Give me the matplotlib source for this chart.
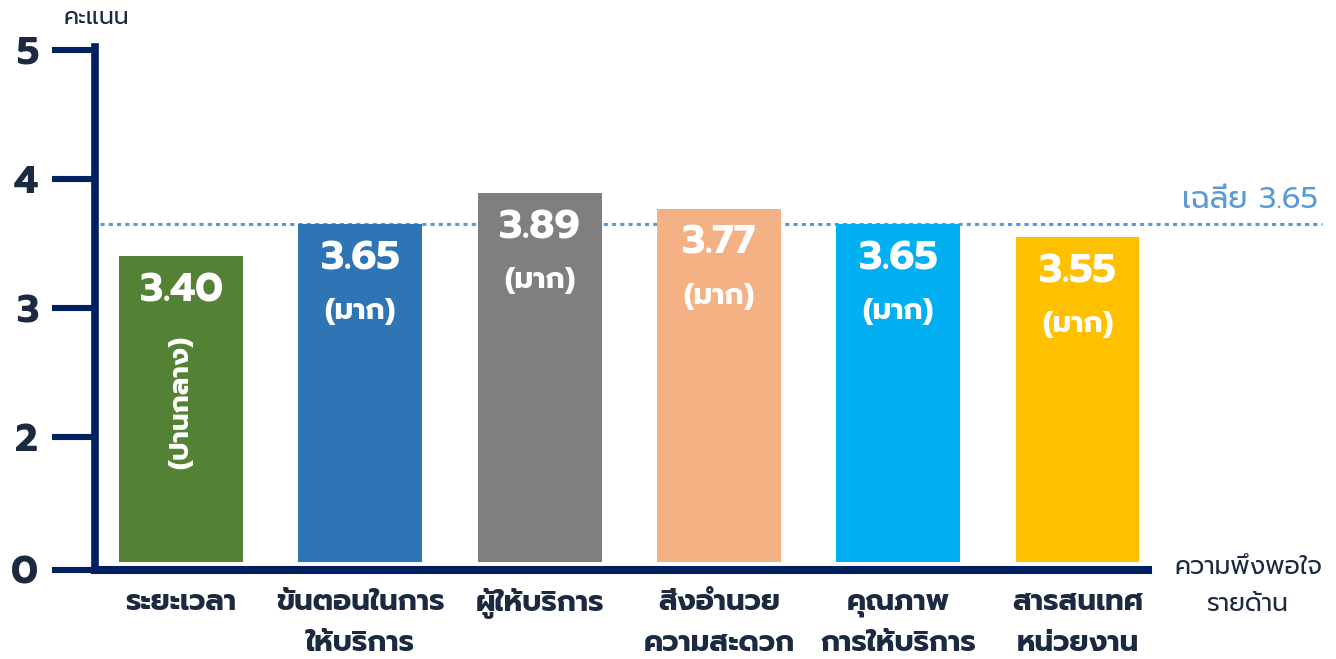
import matplotlib
matplotlib.use("Agg")
import matplotlib.pyplot as plt
from matplotlib.transforms import blended_transform_factory

FONT = ['Prompt', 'DejaVu Sans']
plt.rcParams['font.family'] = FONT

# ---- data ----
categories = ["ระยะเวลา", "ขั้นตอนในการ\nให้บริการ", "ผู้ให้บริการ",
              "สิ่งอำนวย\nความสะดวก", "คุณภาพ\nการให้บริการ", "สารสนเทศ\nหน่วยงาน"]
scores = [3.40, 3.65, 3.89, 3.77, 3.65, 3.55]
levels = ["ปานกลาง", "มาก", "มาก", "มาก", "มาก", "มาก"]
average = 3.65
bar_colors = ["#548235", "#2E75B6", "#7F7F7F", "#F4B183", "#00B0F0", "#FFC000"]
ytick_values = [0, 2, 3, 4, 5]
ytick_labels = ["0", "2", "3", "4", "5"]

# broken axis: 0..2 compressed
ZERO_POS = 0.97
def ypos(v):
    return v if v >= 2 else ZERO_POS + (2 - ZERO_POS) * v / 2.0

NAVY = "#002060"
TEXT = "#1B2A41"
AVG = "#5B9BD5"

W, H = 1336, 659
fig = plt.figure(figsize=(W / 100, H / 100), dpi=100)
ax_l, ax_r, ax_t, ax_b = 95, 1148, 47, 570
ax = fig.add_axes([ax_l / W, 1 - ax_b / H, (ax_r - ax_l) / W, (ax_b - ax_t) / H])

x = list(range(len(scores)))
base = ypos(0) + 8 / 129.0
ax.bar(x, [ypos(s) - base for s in scores], bottom=base, width=0.69,
       color=bar_colors, zorder=2)

ax.set_xlim(-0.48, 5.393)
ax.set_ylim(ypos(0), 5.023)

for s in ["top", "right"]:
    ax.spines[s].set_visible(False)
ax.spines["left"].set_linewidth(5.5)
ax.spines["left"].set_color(NAVY)
ax.spines["bottom"].set_linewidth(5.8)
ax.spines["bottom"].set_color(NAVY)
ax.spines["left"].set_zorder(3)
ax.spines["bottom"].set_zorder(3)

ax.set_yticks([ypos(v) for v in ytick_values])
ax.set_yticklabels(ytick_labels)
ax.tick_params(axis="y", length=31, width=4.4, color=NAVY, pad=10,
               labelsize=28, labelcolor=TEXT)
for lab in ax.get_yticklabels():
    lab.set_fontweight("bold")

ax.set_xticks(x)
ax.set_xticklabels(categories)
ax.tick_params(axis="x", length=0, pad=13, labelsize=21, labelcolor=TEXT)
for lab in ax.get_xticklabels():
    lab.set_fontweight("bold")
    lab.set_linespacing(1.55)
    lab.set_verticalalignment("top")

# value labels inside bars
for xi, s, lev in zip(x, scores, levels):
    ax.annotate(f"{s:.2f}", (xi, ypos(s)), xytext=(0, -25), textcoords="offset points",
                ha="center", va="center", color="white", fontsize=29,
                fontweight="bold", zorder=4)
    if len(lev) > 4:
        ax.annotate(f"({lev})", (xi, ypos(s)), xytext=(0, -105), textcoords="offset points",
                    ha="center", va="center", color="white", fontsize=20,
                    fontweight="bold", rotation=90, zorder=4)
    else:
        ax.annotate(f"({lev})", (xi, ypos(s)), xytext=(0, -63), textcoords="offset points",
                    ha="center", va="center", color="white", fontsize=21,
                    fontweight="bold", zorder=4)

# average line
tr = blended_transform_factory(ax.transAxes, ax.transData)
ax.plot([0.005, (1322 - ax_l) / (ax_r - ax_l)], [average, average], transform=tr,
        color=AVG, lw=2.2, linestyle=(0, (1.35, 1.35)), clip_on=False, zorder=1)
fig.text(1318 / W, 1 - 201 / H, f"เฉลี่ย {average:.2f}", ha="right", va="center",
         color=AVG, fontsize=22)

# axis titles
fig.text(96 / W, 1 - 17 / H, "คะแนน", ha="center", va="center", color=TEXT, fontsize=17)
fig.text(1248 / W, 1 - 586 / H, "ความพึงพอใจ\nรายด้าน", ha="center", va="center",
         color=TEXT, fontsize=18, linespacing=1.6)

fig.savefig("out.png", dpi=100)
